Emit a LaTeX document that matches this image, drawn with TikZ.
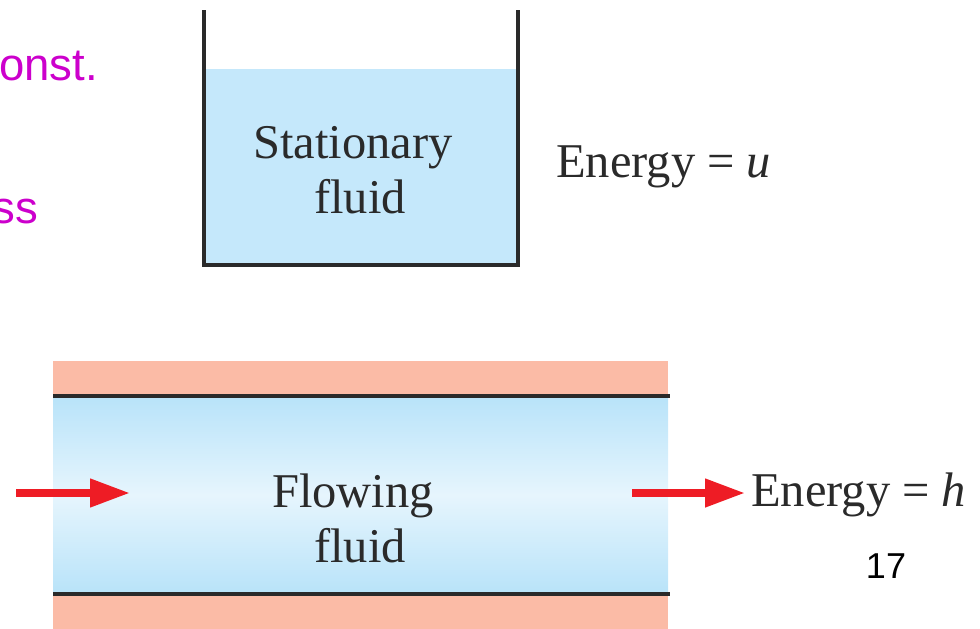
\documentclass[tikz,border=0pt]{standalone}
\usepackage{fontspec}
\setmainfont{Liberation Serif}
\newfontfamily\arialf{Liberation Sans}
\usetikzlibrary{arrows.meta}
\definecolor{fluid}{HTML}{C5E8FB}
\definecolor{flowedge}{HTML}{B8E3F9}
\definecolor{flowmid}{HTML}{E6F5FD}
\definecolor{wallc}{HTML}{FBBBA6}
\definecolor{magentat}{HTML}{CC00CC}
\definecolor{redar}{HTML}{EE1C25}
\definecolor{inkc}{HTML}{2A2A2A}
\tikzset{
  px/.style={x=1pt,y=-1pt},
  serift/.style={font=\fontsize{48.5}{55}\selectfont,text=inkc,inner sep=0pt,align=center},
  pinkt/.style={font=\arialf\fontsize{45.5}{50}\selectfont,text=magentat,inner sep=0pt},
  wall/.style={line width=3.5pt,draw=inkc},
  flowarrow/.style={line width=7.5pt,draw=redar,-{Triangle[length=40pt,width=27pt,fill=redar]}}
}
\begin{document}
\begin{tikzpicture}[px]
\useasboundingbox (0,0) rectangle (980,629);
\fill[fluid] (204,69) rectangle (518,265);
\draw[wall] (204,10) -- (204,265) -- (518,265) -- (518,10);
\node[serift] (st) at (353,170) {Stationary\\\hspace*{14pt}fluid};
\node[serift,anchor=west] (eu) at (556,167) {Energy = \textit{u}};
\node[pinkt,anchor=east] (c1) at (98,66) {onst.};
\node[pinkt,anchor=east] (c2) at (38,212) {ss};
\fill[wallc] (53,361) rectangle (668,396);
\fill[wallc] (53,594) rectangle (668,629);
\fill[top color=flowedge,bottom color=flowmid] (53,396) rectangle (668,495);
\fill[top color=flowmid,bottom color=flowedge] (53,495) rectangle (668,594);
\draw[wall] (53,396) -- (670,396);
\draw[wall] (53,594) -- (670,594);
\node[serift] (fl) at (353,518) {Flowing\\\hspace*{14pt}fluid};
\coordinate (a1) at (16,493);
\coordinate (a2) at (130,493);
\coordinate (b1) at (632,493);
\node[serift,anchor=west] (eh) at (751,495) {Energy = \textit{h}};
\draw[flowarrow] (a1) -- (a2);
\draw[flowarrow,shorten >=6pt] (b1) -- (b1 -| eh.west);
\node[font=\arialf\fontsize{36}{40}\selectfont,text=black,inner sep=0pt] (n) at (886,566) {17};
\end{tikzpicture}
\end{document}
